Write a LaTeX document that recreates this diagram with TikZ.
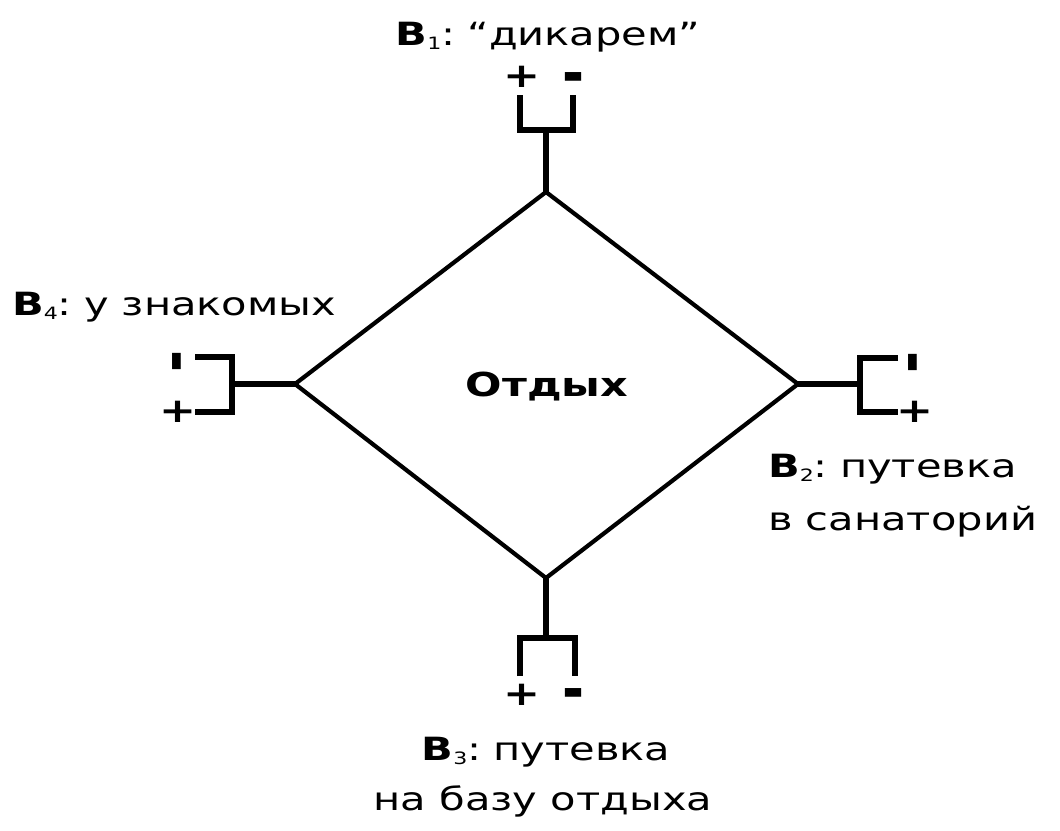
\documentclass[tikz,border=0pt]{standalone}
\usepackage{fontspec}
\setmainfont[FakeStretch=1.3]{DejaVu Sans}
% small lowered index after a bold B
\newcommand{\vidx}[1]{\raisebox{-0.14em}{\fontsize{17}{17}\selectfont #1}}
% variable name "B_n:" of a pin label
\newcommand{\vname}[1]{\textbf{B}\vidx{#1}:\hspace{0.38em}}
% thick minus sign of a pin
\newcommand{\pinminus}{\scalebox{1.2}[1.8]{-}}
\begin{document}
\begin{tikzpicture}[x=1pt,y=-1pt]
\tikzset{
  edge/.style={line width=4.2pt, line join=round},
  wire/.style={line width=5.4pt, line join=miter},
  lbl/.style={font=\fontsize{32}{52}\selectfont, inner sep=0pt},
  title/.style={font=\fontsize{33}{40}\selectfont\bfseries, inner sep=0pt},
  sign/.style={font=\fontsize{34}{34}\selectfont\bfseries, inner sep=0pt}
}
\useasboundingbox (0,0) rectangle (1060,830);

% corners of the rhombus
\coordinate (t) at (546,192);
\coordinate (r) at (798,384);
\coordinate (b) at (546,578);
\coordinate (l) at (295,384);
\draw[edge] (t) -- (r) -- (b) -- (l) -- cycle;
\node[title, anchor=base] (goal) at (547,396) {Отдых};

% top pin: stem and fork
\coordinate (tj) at (546,130);
\coordinate (tja) at (520,130);
\coordinate (tjb) at (573,130);
\coordinate (tea) at (520,95);
\coordinate (teb) at (573,95);
\draw[wire] (t) -- (tj);
\draw[wire] (tea) -- (tja) -- (tjb) -- (teb);
\node[sign] (tplus) at (522,77) {+};
\node[sign] (tminus) at (573,84) {\pinminus};
\node[lbl, anchor=base] (v1) at (548,45) {\vname{1}“дикарем”};

% bottom pin
\coordinate (bj) at (546,638);
\coordinate (bja) at (520,638);
\coordinate (bjb) at (575,638);
\coordinate (bea) at (520,676);
\coordinate (beb) at (575,676);
\draw[wire] (b) -- (bj);
\draw[wire] (bea) -- (bja) -- (bjb) -- (beb);
\node[sign] (bplus) at (522,695) {+};
\node[sign] (bminus) at (573,700) {\pinminus};
\node[lbl, anchor=base] (v3a) at (546,760) {\vname{3}путевка};
\node[lbl, anchor=base] (v3b) at (543,810) {на базу отдыха};

% left pin
\coordinate (lj) at (232,384);
\coordinate (lja) at (232,357);
\coordinate (ljb) at (232,412);
\coordinate (lea) at (195,357);
\coordinate (leb) at (195,412);
\draw[wire] (l) -- (lj);
\draw[wire] (lea) -- (lja) -- (ljb) -- (leb);
\node[sign, rotate=90] (lminus) at (184,361) {\pinminus};
\node[sign] (lplus) at (178,412) {+};
\node[lbl, anchor=base west] (v4) at (12,315) {\vname{4}у знакомых};

% right pin
\coordinate (rj) at (860,384);
\coordinate (rja) at (860,358);
\coordinate (rjb) at (860,412);
\coordinate (rea) at (898,358);
\coordinate (reb) at (898,412);
\draw[wire] (r) -- (rj);
\draw[wire] (rea) -- (rja) -- (rjb) -- (reb);
\node[sign, rotate=90] (rminus) at (920,362) {\pinminus};
\node[sign] (rplus) at (915,412) {+};
\node[lbl, anchor=base west] (v2a) at (768,477) {\vname{2}путевка};
\node[lbl, anchor=base west] (v2b) at (768,530) {в санаторий};
\end{tikzpicture}
\end{document}
